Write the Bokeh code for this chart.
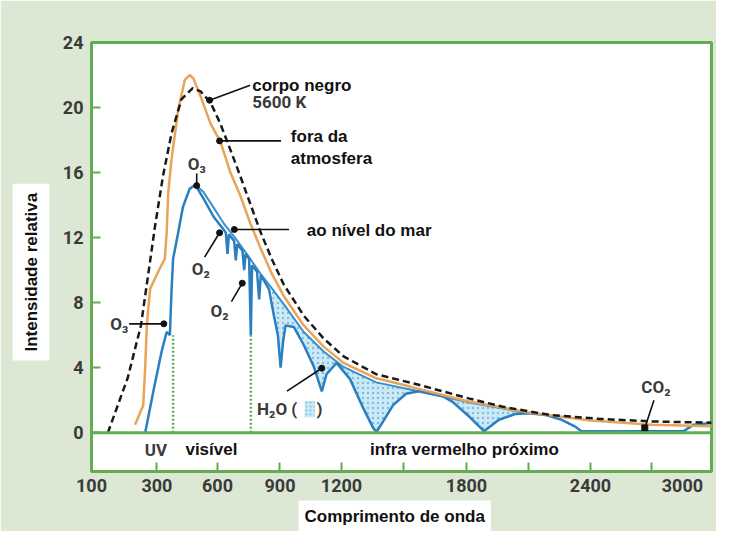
import numpy as np
from bokeh.plotting import figure
from bokeh.models import Range1d, FixedTicker, Label, Span, Title
from bokeh.embed import file_html
from bokeh.resources import INLINE

# ---------------- data ----------------
TICK_NM = [100, 300, 600, 900, 1200, 1500, 1800, 2100, 2400, 2700, 3000]
TICK_LABELS = ["100", "300", "600", "900", "1200", "", "1800", "", "2400", "", "3000"]
Y_TICKS = [0, 4, 8, 12, 16, 20, 24]

# corpo negro 5600 K (dashed)
bb_nm = [150, 211, 251, 273, 294, 330, 372, 421, 477, 516, 566, 614, 662, 709, 757,
         805, 860, 919, 1016, 1113, 1210, 1367, 1571, 1815, 1975, 2200, 2450, 2700, 3000]
bb_val = [0, 3.4, 6.6, 9.7, 12.7, 15.8, 18.4, 20.5, 21.2, 21.0, 20.3, 19.0, 17.4, 15.8, 14.1,
          12.4, 10.7, 9.1, 7.2, 5.8, 4.7, 3.6, 2.95, 2.1, 1.6, 1.1, 0.85, 0.7, 0.62]

# fora da atmosfera (orange)
or_nm = [233, 258, 264, 269, 279, 306, 339, 348, 356, 372, 405, 438, 462, 480, 516,
         566, 614, 662, 709, 757, 805, 860, 919, 1016, 1113, 1210, 1367, 1495, 1571, 1800,
         2100, 2400, 2700, 3000]
or_val = [0.5, 1.7, 4.0, 6.6, 8.85, 9.9, 10.7, 12.3, 14.8, 16.8, 19.85, 21.7, 22.0, 21.8,
          20.7, 19.0, 17.9, 16.0, 14.6, 12.9, 11.4, 9.8, 8.4, 6.6, 5.3, 4.3, 3.35, 2.95, 2.7,
          1.95, 1.25, 0.75, 0.5, 0.4]

# ao nivel do mar (blue, with absorption bands)
ab_nm = [264, 289, 323, 348, 364, 372, 380, 405, 429, 462, 490, 531, 580, 629,
         640, 648, 655, 680, 688, 695, 720, 728, 735, 752, 760, 766, 790, 800, 808, 848,
         871, 890, 903, 915, 927, 968, 1016, 1064, 1104, 1127, 1176, 1241, 1305, 1352,
         1368, 1400, 1448, 1510, 1570, 1686, 1733, 1813, 1884, 1956, 2033, 2099, 2179,
         2260, 2323, 2356, 2860, 2910, 3000]
ab_val = [0, 2.55, 5.0, 6.2, 6.0, 8.7, 10.7, 12.3, 13.9, 15.0, 15.25, 14.4, 13.3,
          12.5, 12.3, 11.0, 12.2, 11.8, 10.6, 11.6, 11.2, 10.0, 11.0, 10.7, 6.0, 10.3, 9.9,
          8.2, 9.7, 8.8, 7.2, 6.0, 4.0, 5.6, 6.6, 6.5, 5.4, 4.1, 2.55, 3.6, 4.3, 3.3, 1.5,
          0.3, 0.05, 0.7, 1.7, 2.4, 2.55, 2.25, 1.9, 1.0, 0.1, 0.8, 1.15, 1.2, 1.1, 0.8,
          0.4, 0.1, 0.1, 0.5, 0.6]

# sea-level envelope without H2O absorption (thin blue)
env_nm = [490, 531, 629, 690, 757, 805, 860, 919, 1016, 1113, 1210, 1367, 1495, 1571, 1800, 2100]
env_val = [15.25, 14.8, 12.9, 11.9, 10.7, 9.8, 8.9, 7.9, 6.2, 5.0, 4.05, 3.1, 2.75, 2.55, 1.9, 1.2]

H2O_BAND_NM = (850, 2100)
BAND_EDGES_NM = [380, 760]
BAND_EDGE_TOP = [6.0, 6.0]

# ---------------- layout / style ----------------
TICK_POS = [0, 66, 127, 190, 252, 315, 378, 441, 503, 565, 625]
BG = "#dce8d4"
GREEN = "#62ad52"
ORANGE = "#e8a458"
BLUE = "#2a7fc1"
BLUE_ENV = "#3b8fc9"
INK = "#111111"
DIN = "#3a3a3a"
NB = "\u00a0"


def X(nm):
    return np.interp(np.asarray(nm, dtype=float), TICK_NM, TICK_POS)


p = figure(width=716, height=531, output_backend="svg", toolbar_location=None,
           x_range=Range1d(0, 625), y_range=Range1d(-2.38, 24),
           min_border_left=86, min_border_right=5, min_border_top=42, min_border_bottom=57)
p.background_fill_color = "white"
p.border_fill_color = BG
p.outline_line_color = GREEN
p.outline_line_width = 3
p.grid.visible = False

xa = p.xaxis[0]
xa.ticker = FixedTicker(ticks=TICK_POS)
overrides = {pos: lab for pos, lab in zip(TICK_POS, TICK_LABELS)}
overrides[TICK_POS[-1]] = TICK_LABELS[-1] + NB * 3
xa.major_label_overrides = overrides
ya = p.yaxis[0]
ya.ticker = FixedTicker(ticks=Y_TICKS)
for ax in (xa, ya):
    ax.axis_line_color = None
    ax.major_tick_in = 9
    ax.major_tick_out = 0
    ax.major_tick_line_color = GREEN
    ax.major_tick_line_width = 2
    ax.minor_tick_line_color = None
    ax.major_label_text_font = "Roboto"
    ax.major_label_text_font_style = "bold"
    ax.major_label_text_font_size = "18px"
    ax.major_label_text_color = DIN
xa.major_label_standoff = 3
ya.major_label_standoff = 8

# axis titles in white boxes
p.add_layout(Title(text="Intensidade relativa", align="left", offset=111, standoff=20,
                   vertical_align="bottom",
                   text_font="Liberation Sans", text_font_style="bold",
                   text_font_size="17px", text_color=INK,
                   background_fill_color="white", padding=9), "left")
p.add_layout(Title(text="Comprimento de onda", align="left", offset=207, standoff=0,
                   text_font="Liberation Sans", text_font_style="bold",
                   text_font_size="17px", text_color=INK,
                   background_fill_color="white", padding=6), "below")

# H2O absorption hatched area
env_sel = [(n, v) for n, v in zip(env_nm, env_val) if H2O_BAND_NM[0] <= n <= H2O_BAND_NM[1]]
ab_sel = [(n, v) for n, v in zip(ab_nm, ab_val) if H2O_BAND_NM[0] <= n <= H2O_BAND_NM[1]]
px_ = list(X([n for n, _ in env_sel])) + list(X([n for n, _ in ab_sel[::-1]]))
py_ = [v for _, v in env_sel] + [v for _, v in ab_sel[::-1]]
p.patch(px_, py_, fill_color="#cde9f6", line_color=None,
        hatch_pattern="dot", hatch_color="#7cc0e4", hatch_scale=5, hatch_weight=1.5)

p.add_layout(Span(location=0, dimension="width", line_color=GREEN, line_width=3))
p.segment(x0=X(BAND_EDGES_NM), y0=[0, 0], x1=X(BAND_EDGES_NM), y1=BAND_EDGE_TOP,
          line_color="#6aa860", line_width=2.5, line_dash="2 2")

p.line(X(env_nm), env_val, line_color=BLUE_ENV, line_width=2)
p.line(X(ab_nm), ab_val, line_color=BLUE, line_width=2.5)
p.line(X(or_nm), or_val, line_color=ORANGE, line_width=2.5)
p.line(X(bb_nm), bb_val, line_color="#1a1a1a", line_width=2.5, line_dash="7 4")

# ---------------- annotations ----------------
# (dot wavelength, dot value, line-end wavelength, line-end value)
pointers = [
    (561, 20.45, 757, 21.37),
    (610, 17.95, 905, 17.95),
    (681, 12.5, 944, 12.5),
    (497, 15.2, 497, 15.95),
    (610, 12.3, 536, 10.8),
    (719, 9.2, 667, 8.06),
    (334, 6.7, 215, 6.7),
    (1104, 3.97, 934, 2.56),
    (2665, 0.3, 2710, 2.0),
]
p.segment(x0=X([q[0] for q in pointers]), y0=[q[1] for q in pointers],
          x1=X([q[2] for q in pointers]), y1=[q[3] for q in pointers],
          line_color=INK, line_width=1.6)
p.scatter(X([q[0] for q in pointers[:-1]]), [q[1] for q in pointers[:-1]],
          size=6, color=INK)
p.scatter(X([pointers[-1][0]]), [pointers[-1][1]], marker="square", size=6, color=INK)

# H2O swatch
p.quad(left=X([1020]), right=X([1070]), bottom=[0.95], top=[1.95],
       fill_color="#cde9f6", line_color=None,
       hatch_pattern="dot", hatch_color="#7cc0e4", hatch_scale=4)


def lab(nm, yv, text, font="Liberation Sans", size="17px", color=INK, align="left"):
    p.add_layout(Label(x=float(X(nm)), y=yv, text=text, text_font=font,
                       text_font_style="bold", text_font_size=size, text_color=color,
                       text_align=align, text_baseline="middle"))


lab(767, 21.37, "corpo negro")
lab(767, 20.35, "5600 K", font="Roboto", color=DIN)
lab(953, 18.2, "fora da")
lab(953, 16.86, "atmosfera")
lab(1031, 12.46, "ao nível do mar")
lab(497, 16.5, "O₃", font="Roboto", color=DIN, align="center")
lab(517, 10.08, "O₂", font="Roboto", color=DIN, align="center")
lab(610, 7.5, "O₂", font="Roboto", color=DIN, align="center")
lab(185, 6.66, "O₃", font="Roboto", color=DIN, align="center")
lab(790, 1.47, "H₂O (", font="Roboto", color=DIN)
lab(1078, 1.47, ")", font="Roboto", color=DIN)
lab(2720, 2.8, "CO₂", font="Roboto", color=DIN, align="center")
lab(297, -1.04, "UV", font="Roboto", color=DIN, align="center")
lab(570, -1.04, "visível", align="center")
lab(1790, -1.04, "infra vermelho próximo", align="center")

open("out.html", "w").write(file_html(p, INLINE))
